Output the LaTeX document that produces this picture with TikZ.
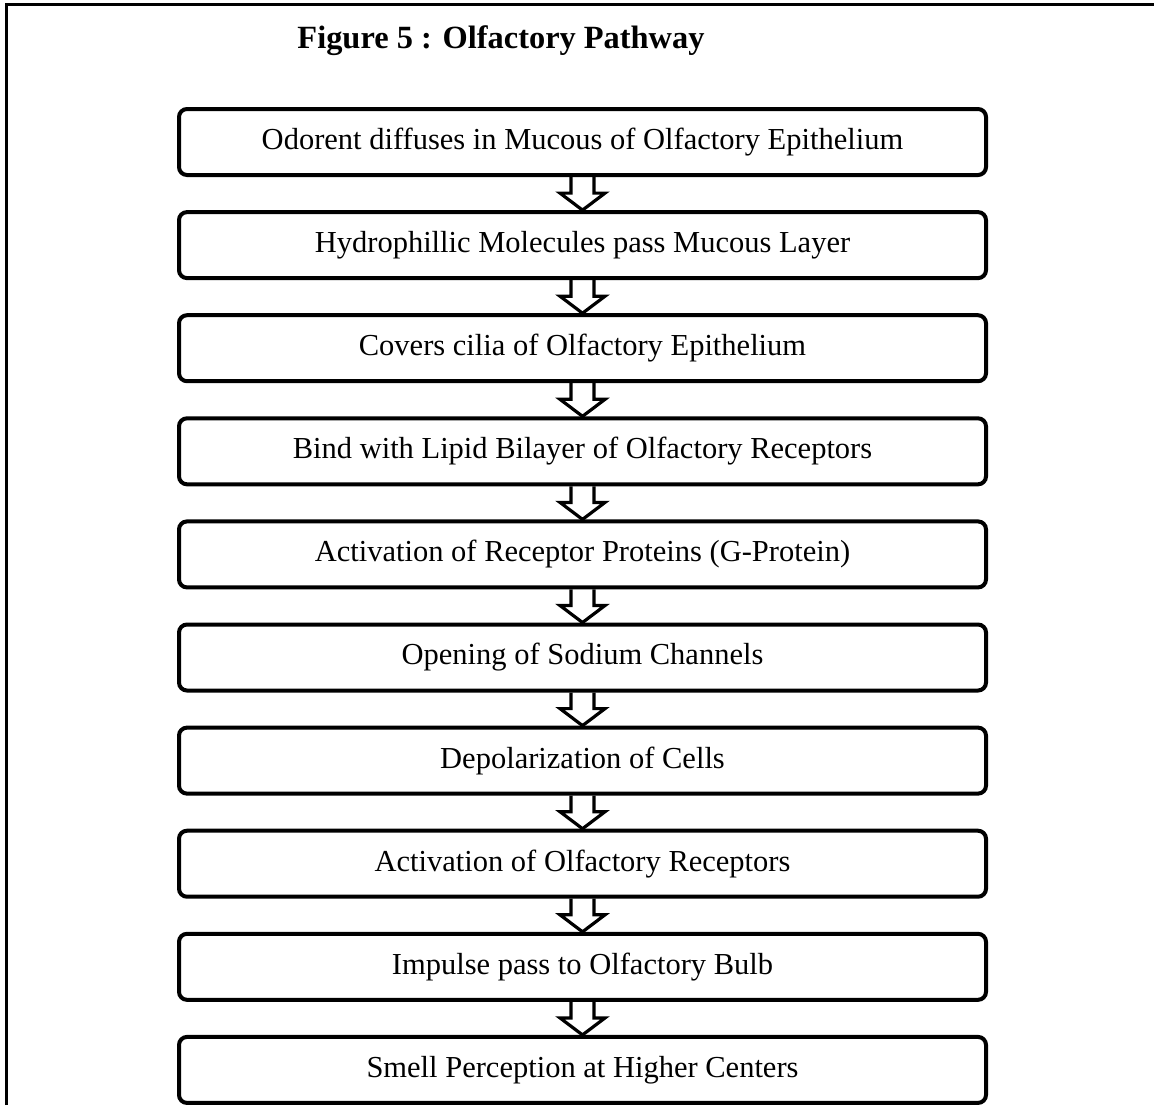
\documentclass[tikz,border=0pt]{standalone}
\usepackage{fontspec}
\setmainfont{Liberation Serif}
\usetikzlibrary{positioning}

\tikzset{etape/.style = {draw, rounded corners=4pt, line width=2pt,
                         minimum width=403.5pt, minimum height=33pt,
                         inner sep=0pt, font=\fontsize{15.25}{17}\selectfont},
         fleche/.style = {line width=1.6pt, line join=miter},
         cadre/.style = {line width=1.75pt}
        }

\begin{document}
\begin{tikzpicture}[node distance=16.55pt]
  \useasboundingbox (0,0) rectangle (577pt,-552.5pt);
  \draw[cadre] (3.25pt,-552.5pt) |- (577pt,-2.25pt);
  \node[anchor=base, font=\bfseries\fontsize{16.2}{18}\selectfont] (titre)
       at (250.5pt,-24pt) {Figure 5 : Olfactory Pathway};

  \node[etape] (e1) at (291.25pt,-71pt) {Odorent diffuses in Mucous of Olfactory Epithelium};
  \node[etape, below=of e1] (e2) {Hydrophillic Molecules pass Mucous Layer};
  \node[etape, below=of e2] (e3) {Covers cilia of Olfactory Epithelium};
  \node[etape, below=of e3] (e4) {Bind with Lipid Bilayer of Olfactory Receptors};
  \node[etape, below=of e4] (e5) {Activation of Receptor Proteins (G-Protein)};
  \node[etape, below=of e5] (e6) {Opening of Sodium Channels};
  \node[etape, below=of e6] (e7) {Depolarization of Cells};
  \node[etape, below=of e7] (e8) {Activation of Olfactory Receptors};
  \node[etape, below=of e8] (e9) {Impulse pass to Olfactory Bulb};
  \node[etape, below=of e9] (e10) {Smell Perception at Higher Centers};

  % fleches creuses entre les etapes
  \foreach \i [evaluate=\i as \j using int(\i+1)] in {1,...,9}
    \draw[fleche] ([xshift=-5.75pt]e\i.south)
                  -- ([xshift=-5.75pt,yshift=8.5pt]e\j.north)
                  -- ([xshift=-11.25pt,yshift=8.5pt]e\j.north)
                  -- (e\j.north)
                  -- ([xshift=11.25pt,yshift=8.5pt]e\j.north)
                  -- ([xshift=5.75pt,yshift=8.5pt]e\j.north)
                  -- ([xshift=5.75pt]e\i.south);
\end{tikzpicture}
\end{document}
